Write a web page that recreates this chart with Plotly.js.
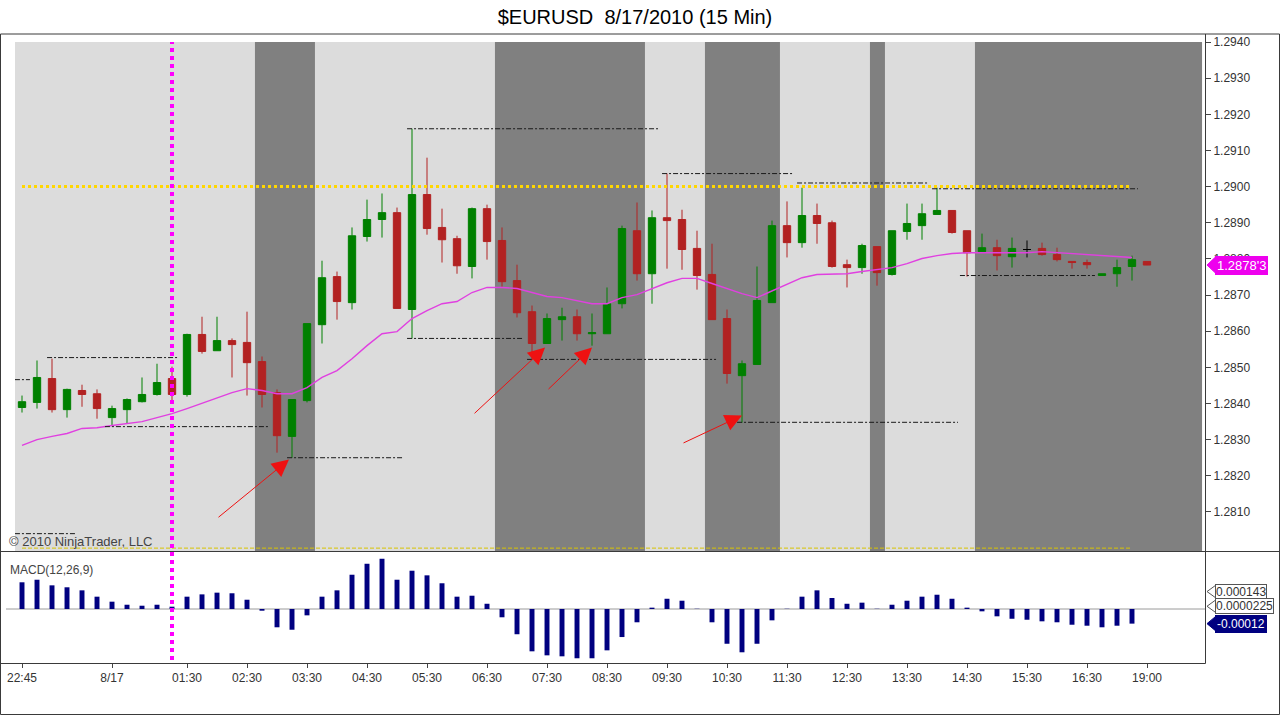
<!DOCTYPE html>
<html><head><meta charset="utf-8">
<script src="https://cdn.plot.ly/plotly-3.0.1.min.js"></script>
<style>html,body{margin:0;padding:0;background:#fff;}#chart{width:1280px;height:715px;}</style>
</head><body><div id="chart"></div>
<script>
// ---------------- DATA ----------------
const chartTitle = "$EURUSD\u00a0 8/17/2010 (15 Min)";
const tickPos  = [0, 6, 11, 15, 19, 23, 27, 31, 35, 39, 43, 47, 51, 55, 59, 63, 67, 71, 75];
const tickText = ["22:45","8/17","01:30","02:30","03:30","04:30","05:30","06:30","07:30","08:30",
                  "09:30","10:30","11:30","12:30","13:30","14:30","15:30","16:30","19:00"];
const priceTicks = [1.281, 1.282, 1.283, 1.284, 1.285, 1.286, 1.287, 1.288, 1.289, 1.290, 1.291, 1.292, 1.293, 1.294];
const priceTickText = ["1.2810","1.2820","1.2830","1.2840","1.2850","1.2860","1.2870","1.2880","1.2890","1.2900","1.2910","1.2920","1.2930","1.2940"];

const openP = [
1.28389,1.28403,1.28469,1.28383,1.28436,1.28427,1.28361,1.28383,1.28405,1.28425,
1.28469,1.28425,1.28591,1.28546,1.28574,1.28569,1.28516,1.28430,1.28309,1.28408,
1.28618,1.28751,1.28679,1.28862,1.28909,1.28928,1.28660,1.28978,1.28887,1.28856,
1.28779,1.28939,1.28851,1.28740,1.28654,1.28566,1.28632,1.28640,1.28593,1.28593,
1.28676,1.28878,1.28759,1.28914,1.28909,1.28829,1.28757,1.28635,1.28477,1.28508,
1.28679,1.28892,1.28845,1.28920,1.28900,1.28784,1.28776,1.28834,1.28757,1.28876,
1.28892,1.28923,1.28934,1.28878,1.28820,1.28831,1.28806,1.28826,1.28829,1.28812,
1.28793,1.28790,1.28754,1.28759,1.28779,1.28793];
const highP = [
1.28422,1.28519,1.28524,1.28441,1.28452,1.28439,1.28394,1.28414,1.28472,1.28510,
1.28502,1.28593,1.28640,1.28640,1.28580,1.28654,1.28530,1.28439,1.28411,1.28621,
1.28795,1.28765,1.28887,1.28964,1.28981,1.28942,1.29160,1.29080,1.28939,1.28864,
1.28942,1.28950,1.28887,1.28784,1.28671,1.28649,1.28665,1.28660,1.28649,1.28721,
1.28892,1.28956,1.28934,1.29036,1.28936,1.28878,1.28842,1.28660,1.28519,1.28779,
1.28906,1.28959,1.28997,1.28953,1.28906,1.28798,1.28842,1.28834,1.28878,1.28953,
1.28953,1.28997,1.28934,1.28878,1.28870,1.28853,1.28859,1.28851,1.28845,1.28831,
1.28793,1.28798,1.28759,1.28798,1.28809,1.28793];
const lowP = [
1.28375,1.28386,1.28375,1.28361,1.28391,1.28358,1.28339,1.28344,1.28403,1.28422,
1.28403,1.28419,1.28538,1.28546,1.28472,1.28422,1.28389,1.28264,1.28250,1.28403,
1.28566,1.28632,1.28660,1.28848,1.28859,1.28663,1.28580,1.28867,1.28790,1.28759,
1.28746,1.28798,1.28723,1.28638,1.28522,1.28566,1.28574,1.28574,1.28560,1.28593,
1.28663,1.28740,1.28676,1.28773,1.28770,1.28715,1.28632,1.28455,1.28347,1.28508,
1.28679,1.28804,1.28831,1.28842,1.28776,1.28721,1.28759,1.28726,1.28754,1.28853,
1.28853,1.28923,1.28870,1.28751,1.28817,1.28768,1.28776,1.28804,1.28809,1.28793,
1.28773,1.28773,1.28754,1.28723,1.28740,1.28784];
const closeP = [
1.28405,1.28472,1.28383,1.28439,1.28425,1.28386,1.28386,1.28411,1.28425,1.28458,
1.28425,1.28591,1.28544,1.28574,1.28563,1.28513,1.28425,1.28311,1.28411,1.28621,
1.28748,1.28682,1.28864,1.28909,1.28928,1.28663,1.28978,1.28884,1.28853,1.28781,
1.28939,1.28848,1.28737,1.28651,1.28566,1.28635,1.28640,1.28593,1.28596,1.28676,
1.28884,1.28759,1.28914,1.28906,1.28826,1.28754,1.28632,1.28483,1.28510,1.28685,
1.28892,1.28845,1.28920,1.28898,1.28779,1.28776,1.28837,1.28762,1.28878,1.28898,
1.28925,1.28934,1.28873,1.28817,1.28831,1.28809,1.28829,1.28826,1.28812,1.28798,
1.28790,1.28784,1.28759,1.28776,1.28798,1.28783];
const dojiBars = [67];

const maVals = [
1.28284,1.28300,1.28309,1.28317,1.28331,1.28333,1.28339,1.28344,1.28350,1.28361,
1.28372,1.28386,1.28400,1.28416,1.28430,1.28441,1.28436,1.28427,1.28427,1.28444,
1.28472,1.28491,1.28524,1.28560,1.28593,1.28599,1.28635,1.28657,1.28676,1.28682,
1.28707,1.28721,1.28721,1.28718,1.28707,1.28696,1.28693,1.28685,1.28676,1.28676,
1.28693,1.28701,1.28718,1.28734,1.28746,1.28746,1.28732,1.28718,1.28704,1.28693,
1.28712,1.28729,1.28748,1.28757,1.28759,1.28759,1.28765,1.28770,1.28776,1.28787,
1.28801,1.28809,1.28815,1.28817,1.28817,1.28817,1.28817,1.28817,1.28820,1.28817,
1.28815,1.28812,1.28809,1.28806,1.28804];

const macdHist = [
0.000219,0.000240,0.000194,0.000178,0.000153,0.000101,0.000060,0.000035,0.000027,0.000035,
0.000019,0.000101,0.000120,0.000134,0.000129,0.000076,-0.000014,-0.000150,-0.000170,-0.000052,
0.000101,0.000153,0.000281,0.000371,0.000412,0.000240,0.000314,0.000276,0.000211,0.000101,
0.000109,0.000043,-0.000068,-0.000207,-0.000347,-0.000380,-0.000388,-0.000404,-0.000404,-0.000339,
-0.000230,-0.000109,0.000011,0.000084,0.000068,0.000002,-0.000109,-0.000285,-0.000355,-0.000285,
-0.000093,0.000002,0.000101,0.000153,0.000090,0.000043,0.000052,0.000002,0.000035,0.000068,
0.000101,0.000117,0.000084,0.000011,-0.000019,-0.000060,-0.000080,-0.000088,-0.000101,-0.000109,
-0.000129,-0.000137,-0.000150,-0.000137,-0.000120];
const macdLineVal = 0.000143;
const macdSignalVal = 0.0000225;
const macdLabels = ["0.000143", "0.0000225", "-0.00012"];
const priceLabel = "1.2878'3";

// shaded session bands (bar index from..to)
const bandFrom = [16, 32, 46, 57, 64];
const bandTo   = [19, 41, 50, 57, null];

// swing high/low dashed lines
const swingStart = [-0.47, 1.67, 5.53, 17.67, 25.67, 25.67, 33.67, 42.67, 47.67, 51.67, 60.67, 62.53, -0.47];
const swingEnd   = [0.53, 10.40, 16.40, 25.47, 42.40, 33.40, 46.27, 51.40, 62.40, 60.40, 74.40, 71.53, 3.53];
const swingPrice = [1.28466, 1.28527, 1.28336, 1.28250, 1.29160, 1.28580, 1.28522, 1.29036, 1.28348, 1.29010, 1.28994, 1.28754, 1.28040];

// round number levels
const roundLevels = [1.2900, 1.2800];
const roundFrom = 0, roundTo = 73.9;

// vertical session marker
const markerBar = 10;

// red arrows (tail -> tip)
const arrowFromX = [13.0, 30.07, 35.0, 44.0];
const arrowFromY = [1.28082, 1.28369, 1.28436, 1.28289];
const arrowToX   = [17.8, 34.87, 38.0, 48.0];
const arrowToY   = [1.28245, 1.28555, 1.28555, 1.28367];

// ---------------- CHART ----------------
const W = 1280, H = 715;
const px = x => x / W;
const py = y => 1 - y / H;
const FONT = "Liberation Sans, Arial, sans-serif";
const xMin = -0.4667, xMax = 78.8667;

const idx = openP.map((_, i) => i);
const mainIdx = idx.filter(i => !dojiBars.includes(i));
const pick = (arr, ids) => ids.map(i => arr[i]);

const traces = [
  {
    type: 'candlestick', x: mainIdx,
    open: pick(openP, mainIdx), high: pick(highP, mainIdx), low: pick(lowP, mainIdx), close: pick(closeP, mainIdx),
    xaxis: 'x', yaxis: 'y', hoverinfo: 'skip', showlegend: false,
    increasing: {line: {color: '#008000', width: 1}, fillcolor: '#008000'},
    decreasing: {line: {color: '#b22222', width: 1}, fillcolor: '#b22222'}
  },
  {
    type: 'candlestick', x: dojiBars,
    open: pick(openP, dojiBars), high: pick(highP, dojiBars), low: pick(lowP, dojiBars), close: pick(closeP, dojiBars),
    xaxis: 'x', yaxis: 'y', hoverinfo: 'skip', showlegend: false,
    increasing: {line: {color: '#000000', width: 1}, fillcolor: '#000000'},
    decreasing: {line: {color: '#000000', width: 1}, fillcolor: '#000000'}
  },
  {
    type: 'scatter', mode: 'lines', x: idx.slice(0, maVals.length), y: maVals,
    xaxis: 'x', yaxis: 'y', line: {color: '#e040e0', width: 1.4}, hoverinfo: 'skip', showlegend: false
  },
  {
    type: 'bar', x: idx.slice(0, macdHist.length), y: macdHist, width: 0.33,
    xaxis: 'x', yaxis: 'y2', marker: {color: '#000080'}, hoverinfo: 'skip', showlegend: false
  }
];

const shapes = [];
// light session background
shapes.push({type: 'rect', xref: 'x', yref: 'y domain', x0: xMin, x1: 78.67, y0: 0, y1: 1,
             fillcolor: '#dcdcdc', line: {width: 0}, layer: 'below'});
bandFrom.forEach((f, i) => {
  const t = bandTo[i] === null ? 78.67 : bandTo[i] + 0.53;
  shapes.push({type: 'rect', xref: 'x', yref: 'y domain', x0: f - 0.47, x1: t, y0: 0, y1: 1,
               fillcolor: '#808080', line: {width: 0}, layer: 'below'});
});
// MACD zero line
shapes.push({type: 'line', xref: 'paper', yref: 'y2', x0: px(6), x1: px(1205), y0: 0, y1: 0,
             line: {color: '#9a9a9a', width: 1}, layer: 'below'});
// swing lines
swingPrice.forEach((p, i) => {
  shapes.push({type: 'line', xref: 'x', yref: 'y', x0: swingStart[i], x1: swingEnd[i], y0: p, y1: p,
               line: {color: '#1a1a1a', width: 1, dash: '5px,2px,2px,2px'}});
});
// round levels
const roundStyles = [{color: '#ffd700', width: 3, dash: 'dot'}, {color: '#d8c400', width: 1, dash: '4px,2px'}];
roundLevels.forEach((lv, i) => {
  shapes.push({type: 'line', xref: 'x', yref: 'y', x0: roundFrom, x1: roundTo, y0: lv, y1: lv, line: roundStyles[i]});
});
// vertical magenta marker
shapes.push({type: 'line', xref: 'x', yref: 'paper', x0: markerBar, x1: markerBar, y0: py(660), y1: py(42),
             line: {color: '#ff00ff', width: 4, dash: 'dot'}});
// frames
const frameCol = '#3a3a3a';
shapes.push({type: 'rect', xref: 'paper', yref: 'paper', x0: px(0.5), x1: px(1279.5), y0: py(714.5), y1: py(34),
             line: {color: frameCol, width: 1}});
shapes.push({type: 'line', xref: 'paper', yref: 'paper', x0: 0, x1: 1, y0: py(551.5), y1: py(551.5),
             line: {color: frameCol, width: 1}});
shapes.push({type: 'line', xref: 'paper', yref: 'paper', x0: 0, x1: px(1205.5), y0: py(663.5), y1: py(663.5),
             line: {color: frameCol, width: 1}});
shapes.push({type: 'line', xref: 'paper', yref: 'paper', x0: px(1205.5), x1: px(1205.5), y0: py(663.5), y1: py(34),
             line: {color: frameCol, width: 1}});

// label pointers (pixel-sized triangles anchored at the value)
function pointer(yref, val, fill, edge, half) {
  shapes.push({type: 'path', xref: 'paper', yref: yref, xsizemode: 'pixel', ysizemode: 'pixel',
               xanchor: px(1207), yanchor: val,
               path: 'M0,0L9,' + half + 'L9,-' + half + 'Z',
               fillcolor: fill, line: {color: edge, width: 1}});
}
pointer('y', closeP[closeP.length - 1], '#ee00ee', '#ee00ee', 8.5);
const macdVals = [macdLineVal, macdSignalVal, macdHist[macdHist.length - 1]];
pointer('y2', macdVals[0], '#ffffff', '#555555', 6.5);
pointer('y2', macdVals[1], '#ffffff', '#555555', 6.5);
pointer('y2', macdVals[2], '#000080', '#000080', 7.5);

const annotations = [];
arrowToX.forEach((tx, i) => {
  annotations.push({x: tx, y: arrowToY[i], xref: 'x', yref: 'y', ax: arrowFromX[i], ay: arrowFromY[i],
                    axref: 'x', ayref: 'y', text: '', showarrow: true, arrowhead: 2, arrowsize: 3.4,
                    arrowwidth: 1, arrowcolor: '#ee1111', standoff: 0});
});
annotations.push({xref: 'paper', yref: 'y', x: px(1215), y: closeP[closeP.length - 1], xanchor: 'left',
                  text: priceLabel, showarrow: false, bgcolor: '#ee00ee', bordercolor: '#ee00ee', borderpad: 1,
                  font: {family: FONT, size: 13, color: '#ffffff'}});
macdLabels.forEach((t, i) => {
  const last = i === 2;
  annotations.push({xref: 'paper', yref: 'y2', x: px(1215), y: macdVals[i], xanchor: 'left', text: t,
                    showarrow: false, bgcolor: last ? '#000080' : '#ffffff', bordercolor: last ? '#000080' : '#555',
                    borderwidth: 1, borderpad: last ? 1 : 0, font: {family: FONT, size: 12, color: last ? '#ffffff' : '#333'}});
});
annotations.push({xref: 'paper', yref: 'paper', x: px(7), y: py(541), xanchor: 'left', yanchor: 'middle',
                  text: '\u00a9 2010 NinjaTrader, LLC', showarrow: false, font: {family: FONT, size: 13, color: '#444'}});
annotations.push({xref: 'paper', yref: 'paper', x: px(8), y: py(570), xanchor: 'left', yanchor: 'middle',
                  text: 'MACD(12,26,9)', showarrow: false, font: {family: FONT, size: 12, color: '#444'}});

const layout = {
  width: W, height: H,
  margin: {l: 0, r: 0, t: 0, b: 0},
  paper_bgcolor: '#ffffff', plot_bgcolor: '#ffffff',
  showlegend: false, hovermode: false,
  title: {text: chartTitle, xref: 'container', yref: 'container', x: px(635), xanchor: 'center', y: py(17), yanchor: 'middle',
          font: {family: FONT, size: 20, color: '#000'}},
  font: {family: FONT, size: 12, color: '#333'},
  xaxis: {domain: [px(15), px(1205)], range: [xMin, xMax], anchor: 'y2',
          showgrid: false, zeroline: false, showline: false,
          tickmode: 'array', tickvals: tickPos, ticktext: tickText,
          ticks: 'outside', ticklen: 4, tickcolor: '#444', tickfont: {family: FONT, size: 12, color: '#333'},
          rangeslider: {visible: false}, fixedrange: true},
  yaxis: {domain: [py(551), py(42)], range: [1.27992, 1.2940], anchor: 'x', side: 'right',
          showgrid: false, zeroline: false, showline: false,
          tickmode: 'array', tickvals: priceTicks, ticktext: priceTickText,
          ticks: 'outside', ticklen: 5, tickcolor: '#444', tickfont: {family: FONT, size: 12, color: '#333'},
          fixedrange: true},
  yaxis2: {domain: [py(663), py(553)], range: [-0.0004428, 0.0004592], anchor: 'x', side: 'right',
           showgrid: false, zeroline: false, showline: false, showticklabels: false, ticks: '', fixedrange: true},
  shapes: shapes,
  annotations: annotations
};

Plotly.newPlot('chart', traces, layout, {displayModeBar: false, staticPlot: true});
</script>
</body></html>
